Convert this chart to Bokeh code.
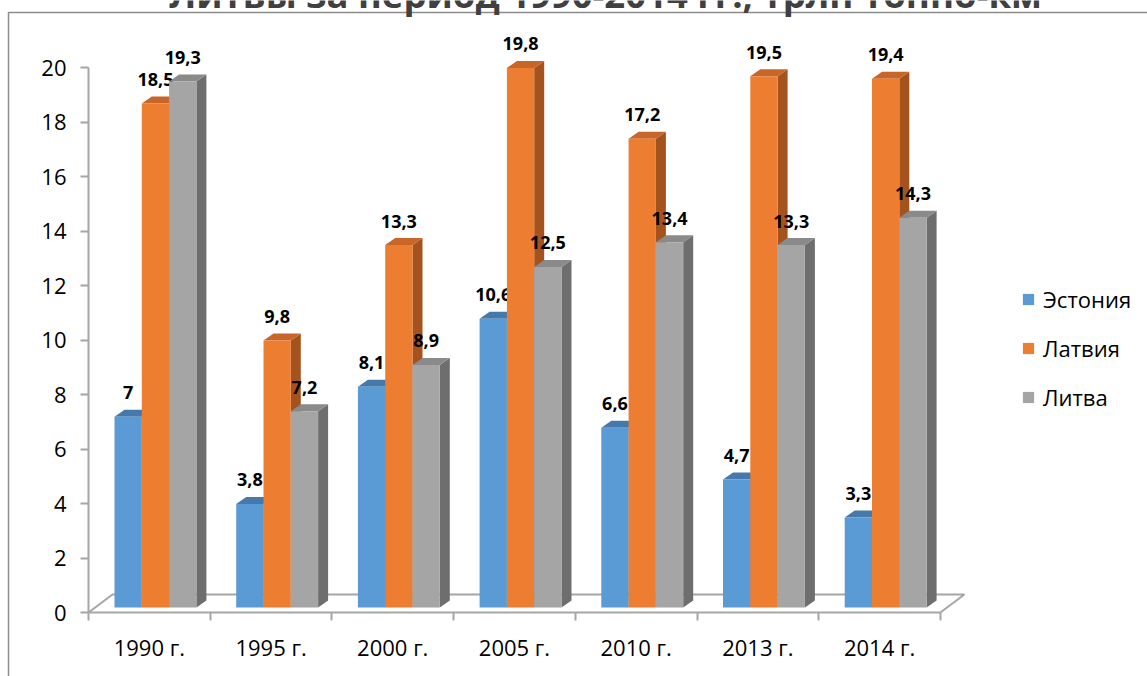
from bokeh.plotting import figure
from bokeh.models import FixedTicker, Legend, LegendItem, ColumnDataSource
from bokeh.core.properties import value
from bokeh.embed import file_html
from bokeh.resources import INLINE

# ---------------- data ----------------
years = ["1990 г.", "1995 г.", "2000 г.", "2005 г.", "2010 г.", "2013 г.", "2014 г."]
estonia = [7, 3.8, 8.1, 10.6, 6.6, 4.7, 3.3]
latvia = [18.5, 9.8, 13.3, 19.8, 17.2, 19.5, 19.4]
lithuania = [19.3, 7.2, 8.9, 12.5, 13.4, 13.3, 14.3]
series_names = ["Эстония", "Латвия", "Литва"]
y_ticks = [0, 2, 4, 6, 8, 10, 12, 14, 16, 18, 20]
title_text = "Литвы за период 1990-2014 гг., трлн тонно-км"

# ---------------- geometry (px -> data) ----------------
PX_X = 121.7    # pixels per category
PX_Y = 27.25    # pixels per unit
W, H = 1147, 676
ORIGIN_X, ORIGIN_Y = 88, 612   # canvas position of the (0, 0) corner

bar_w = 27.3 / PX_X
first_off = 26 / PX_X
dx = 10 / PX_X
dy = 7 / PX_Y
base = 5 / PX_Y
floor_dx = 24 / PX_X
floor_dy = 18 / PX_Y
lab_off = 24 / PX_Y

fronts = ["#5B9BD5", "#ED7D31", "#A5A5A5"]
tops = ["#4679AB", "#C8662A", "#8A8A8A"]
sides = ["#3C6D9C", "#A5531E", "#6E6E6E"]

p = figure(width=W, height=H, output_backend="svg", toolbar_location=None,
           x_range=(-ORIGIN_X / PX_X, (W - ORIGIN_X) / PX_X),
           y_range=(-(H - ORIGIN_Y) / PX_Y, ORIGIN_Y / PX_Y),
           min_border_left=0, min_border_right=0, min_border_top=0,
           min_border_bottom=0)
p.outline_line_color = None
p.xgrid.visible = False
p.ygrid.visible = False
p.background_fill_color = "white"
p.border_fill_color = "white"

# outer chart border (left and top edges visible)
bx = (8 - ORIGIN_X) / PX_X
by = (ORIGIN_Y - 12) / PX_Y
p.line([bx, bx, (W + 50 - ORIGIN_X) / PX_X], [-(H + 50 - ORIGIN_Y) / PX_Y, by, by],
       line_color="#8C8C8C", line_width=1.5)

n = len(years)
# floor outline
fx = [0, floor_dx, n + floor_dx, n]
fy = [0, floor_dy, floor_dy, 0]
p.line(fx, fy, line_color="#A6A6A6", line_width=2)

legend_items = []
for s, vals in enumerate([estonia, latvia, lithuania]):
    x0 = [i + first_off + s * bar_w for i in range(n)]
    x1 = [a + bar_w for a in x0]
    top_y = [base + v for v in vals]
    side_xs = [[b, b + dx, b + dx, b] for b in x1]
    side_ys = [[base, base + dy, t + dy, t] for t in top_y]
    p.patches(side_xs, side_ys, fill_color=sides[s], line_color=None)
    top_xs = [[a, b, b + dx, a + dx] for a, b in zip(x0, x1)]
    top_ys = [[t, t, t + dy, t + dy] for t in top_y]
    p.patches(top_xs, top_ys, fill_color=tops[s], line_color=None)
    r = p.quad(left=x0, right=x1, bottom=[base] * n, top=top_y,
               fill_color=fronts[s], line_color=None)
    legend_items.append(LegendItem(label=series_names[s], renderers=[r]))
    src = ColumnDataSource(dict(
        x=[(a + b) / 2 for a, b in zip(x0, x1)],
        y=[t + lab_off for t in top_y],
        t=[("%g" % v).replace(".", ",") for v in vals]))
    p.text(x="x", y="y", text="t", source=src, text_align="center",
           text_baseline="middle", text_font=value("Open Sans"),
           text_font_size="18px", text_font_style="bold", text_color="black")

# title (only its lower part is inside the picture)
p.text(x=[(605 - ORIGIN_X) / PX_X], y=[(ORIGIN_Y + 7) / PX_Y], text=[title_text],
       text_align="center", text_baseline="alphabetic",
       text_font=value("Open Sans"), text_font_size="36.5px",
       text_font_style="bold", text_color="#404040")

# axes (drawn at the data origin)
ya = p.yaxis[0]
ya.fixed_location = 0
ya.ticker = FixedTicker(ticks=y_ticks, minor_ticks=[])
ya.bounds = (0, 20)
ya.axis_line_color = "#A6A6A6"
ya.axis_line_width = 2
ya.major_tick_line_color = "#A6A6A6"
ya.major_tick_line_width = 2
ya.major_tick_out = 8
ya.major_tick_in = 0
ya.minor_tick_line_color = None
ya.major_label_standoff = 14
ya.major_label_text_font = "Open Sans"
ya.major_label_text_font_size = "22px"
ya.major_label_text_color = "black"

xa = p.xaxis[0]
xa.fixed_location = 0
centers = [i + 0.5 for i in range(n)]
xa.ticker = FixedTicker(ticks=centers, minor_ticks=list(range(n + 1)))
xa.major_label_overrides = {c: y for c, y in zip(centers, years)}
xa.bounds = (0, n)
xa.axis_line_color = "#A6A6A6"
xa.axis_line_width = 2
xa.major_tick_out = 0
xa.major_tick_in = 0
xa.major_tick_line_color = None
xa.minor_tick_line_color = "#A6A6A6"
xa.minor_tick_line_width = 2
xa.minor_tick_out = 8
xa.minor_tick_in = 0
xa.major_label_standoff = 11
xa.major_label_text_font = "Open Sans"
xa.major_label_text_font_size = "22px"
xa.major_label_text_color = "black"

legend = Legend(items=legend_items, location=(1021, 264), orientation="vertical",
                glyph_width=14, glyph_height=14, label_standoff=8, spacing=19,
                padding=0, margin=0, border_line_color=None,
                background_fill_alpha=0, label_text_font="Open Sans",
                label_text_font_size="22px", label_text_color="black")
p.add_layout(legend)

open("out.html", "w").write(file_html(p, INLINE))
